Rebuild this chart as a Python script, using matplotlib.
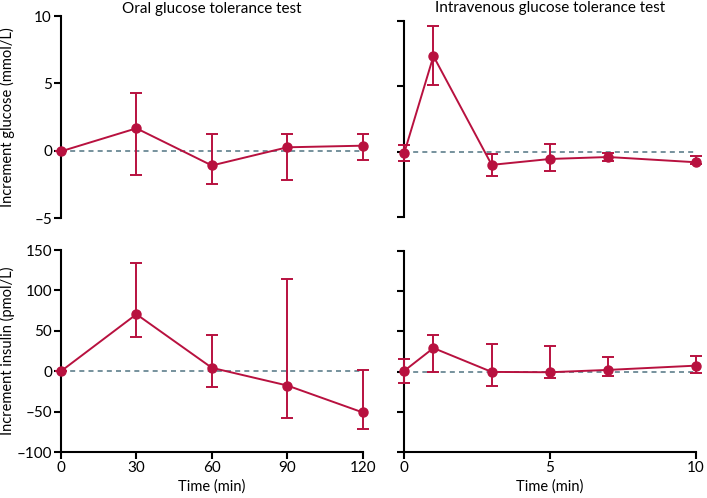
import numpy as np
import matplotlib.pyplot as plt

plt.rcParams['font.family'] = ['Lato', 'DejaVu Sans']

# Oral glucose tolerance test
ogtt_time = [0, 30, 60, 90, 120]
ogtt_glucose = [-0.05, 1.66, -1.1, 0.25, 0.37]
ogtt_glucose_hi = [-0.05, 4.25, 1.22, 1.22, 1.25]
ogtt_glucose_lo = [-0.05, -1.77, -2.44, -2.19, -0.7]
ogtt_insulin = [0, 70.5, 4.2, -17.7, -51]
ogtt_insulin_hi = [0, 134.5, 45.4, 113.5, 2]
ogtt_insulin_lo = [0, 42, -20, -58.5, -72]

# Intravenous glucose tolerance test
ivgtt_time = [0, 1, 3, 5, 7, 10]
ivgtt_glucose = [-0.08, 7.3, -1.0, -0.55, -0.4, -0.8]
ivgtt_glucose_hi = [0.55, 9.6, -0.15, 0.63, -0.08, -0.32]
ivgtt_glucose_lo = [-0.72, 5.1, -1.88, -1.5, -0.72, -0.9]
ivgtt_insulin = [1, 29.3, -0.4, -0.8, 2.1, 7.4]
ivgtt_insulin_hi = [15.3, 45.4, 34.3, 31.4, 17.8, 19.4]
ivgtt_insulin_lo = [-14, -0.8, -17.7, -7.4, -4.9, -1.6]

red = '#B8113F'
dash = '#5F7F8C'
W, H = 707, 498
FS = 10.5

fig = plt.figure(figsize=(7.07, 4.98), dpi=100)


def box(x0, x1, ytop, ybot):
    return [x0 / W, (H - ybot) / H, (x1 - x0) / W, (ybot - ytop) / H]


def panel(rect, t, y, hi, lo, ylim, yticks, xlim, xticks, show_x, show_ylab):
    ax = fig.add_axes(rect)
    y = np.array(y)
    err = [y - np.array(lo), np.array(hi) - y]
    ax.axhline(0, color=dash, lw=1.2, ls=(0, (3, 2.5)), zorder=1)
    ax.errorbar(t, y, yerr=err, color=red, lw=1.4, elinewidth=1.4,
                capsize=4.5, capthick=1.4, marker='o', ms=6.5, zorder=3,
                clip_on=False)
    ax.set_ylim(*ylim)
    ax.set_xlim(*xlim)
    ax.set_yticks(yticks)
    ax.spines[['top', 'right']].set_visible(False)
    ax.spines['left'].set_linewidth(1.5)
    ax.spines['bottom'].set_linewidth(1.5)
    ax.tick_params(axis='both', width=1.5, length=5, labelsize=FS + 0.5,
                   colors='black', pad=1.5)
    if show_ylab:
        ax.set_yticklabels([str(v).replace('-', '\u2013') for v in yticks])
    else:
        ax.tick_params(axis='y', labelleft=False)
    if show_x:
        ax.set_xticks(xticks)
        ax.set_xlabel('Time (min)', fontsize=FS, labelpad=3)
    else:
        ax.spines['bottom'].set_visible(False)
        ax.set_xticks([])
    return ax


a1 = panel(box(61, 362.7, 16, 218), ogtt_time, ogtt_glucose, ogtt_glucose_hi,
           ogtt_glucose_lo, (-5, 10), [-5, 0, 5, 10], (0, 120),
           [0, 30, 60, 90, 120], False, True)
a1.set_title('Oral glucose tolerance test', fontsize=FS + 0.5, pad=2)
a1.set_ylabel('Increment glucose (mmol/L)', fontsize=FS, labelpad=14)

a2 = panel(box(404.3, 695.7, 20.7, 217.3), ivgtt_time, ivgtt_glucose,
           ivgtt_glucose_hi, ivgtt_glucose_lo, (-5, 10), [-5, 0, 5, 10],
           (0, 10), [0, 5, 10], False, False)
a2.set_title('Intravenous glucose tolerance test', fontsize=FS + 0.5, pad=6)

a3 = panel(box(61, 362.7, 250, 452), ogtt_time, ogtt_insulin, ogtt_insulin_hi,
           ogtt_insulin_lo, (-100, 150), [-100, -50, 0, 50, 100, 150],
           (0, 120), [0, 30, 60, 90, 120], True, True)
a3.set_ylabel('Increment insulin (pmol/L)', fontsize=FS, labelpad=1)

a4 = panel(box(404.3, 695.7, 251, 452), ivgtt_time, ivgtt_insulin,
           ivgtt_insulin_hi, ivgtt_insulin_lo, (-100, 150),
           [-100, -50, 0, 50, 100, 150], (0, 10), [0, 5, 10], True, False)

fig.savefig('out.png', dpi=100)
